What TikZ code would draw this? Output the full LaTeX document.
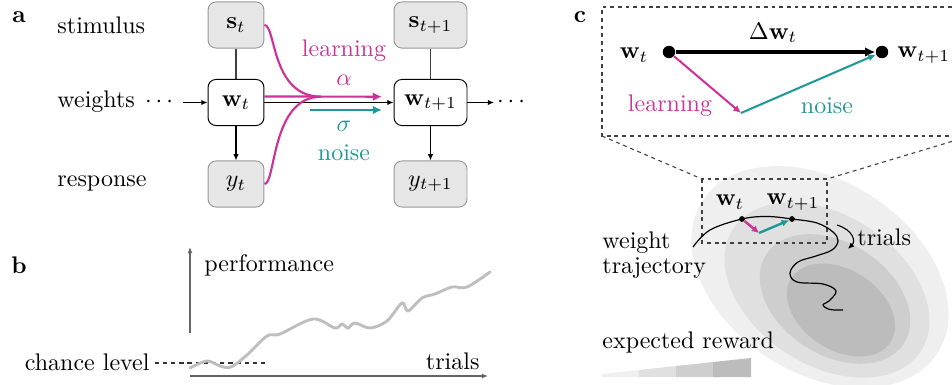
\documentclass[tikz,border=0pt]{standalone}
\usetikzlibrary{arrows.meta}
\definecolor{mag}{RGB}{204,51,153}
\definecolor{tealc}{RGB}{30,152,150}
\definecolor{boxgray}{RGB}{230,230,230}
\definecolor{ellA}{RGB}{239,239,239}
\definecolor{ellB}{RGB}{224,224,224}
\definecolor{ellC}{RGB}{206,206,206}
\definecolor{ellD}{RGB}{188,188,188}
\definecolor{axisgray}{RGB}{100,100,100}
\definecolor{curvegray}{RGB}{190,190,190}
\begin{document}
\begin{tikzpicture}[x=0.4167pt,y=-0.4167pt,
  lab/.style={anchor=west,inner sep=0pt},
  rlab/.style={anchor=east,inner sep=0pt},
  clab/.style={inner sep=0pt},
  gbox/.style={draw=gray!80,fill=boxgray,rounded corners=3.3pt,minimum height=19.2pt,inner sep=0pt},
  wbox/.style={draw=black,fill=white,rounded corners=3.3pt,minimum height=19.2pt,inner sep=0pt},
  thin arrow/.style={-{Latex[length=2.6pt,width=2.2pt]},line width=0.45pt},
  plain link/.style={line width=0.45pt,draw=black!75},
  magarrow/.style={draw=mag,line width=0.9pt,-{Latex[length=3.8pt,width=3.6pt]}},
  tealarrow/.style={draw=tealc,line width=0.9pt,-{Latex[length=3.8pt,width=3.6pt]}},
  magline/.style={draw=mag,line width=0.9pt},
  axisline/.style={draw=axisgray,line width=0.7pt,-{Latex[length=2.6pt,width=2.2pt]}},
  zoomdash/.style={draw=black!75,line width=0.45pt,dash pattern=on 1.6pt off 1.6pt},
  wdot/.style={circle,fill=black,inner sep=0pt,minimum size=5.2pt},
  sdot/.style={circle,fill=black,inner sep=0pt,minimum size=2.4pt},
  smallarrow/.style={line width=1pt,-{Latex[length=3pt,width=3pt]}},
  bigarrow/.style={line width=1.3pt,-{Latex[length=4.2pt,width=4pt]}},
  midarrow/.style={line width=0.85pt,-{Latex[length=3.2pt,width=3pt]}}]
\useasboundingbox (0,0) rectangle (952,385);

% ---------------- panel a ----------------
\node[font=\bfseries,clab] (la) at (19,17) {a};
\node[lab] (stim) at (57,25) {stimulus};
\node[lab] (wts) at (57,102) {weights};
\node[lab] (resp) at (57,183) {response};
\node[anchor=base,inner sep=0pt] (dotsL) at (159,108) {${\cdot}\,{\cdot}\,{\cdot}$};
\node[anchor=base,inner sep=0pt] (dotsR) at (511,108) {${\cdot}\,{\cdot}\,{\cdot}$};
\coordinate (win) at (183,102.5);
\coordinate (wout) at (494,102.5);

\node[gbox,minimum width=23.3pt] (s0) at (236,25) {$\mathbf{s}_t$};
\node[wbox,minimum width=23.3pt] (w0) at (236,102.5) {$\mathbf{w}_t$};
\node[gbox,minimum width=23.3pt] (y0) at (236,184) {$y_t$};
\node[gbox,minimum width=30.4pt] (s1) at (430.5,25) {$\mathbf{s}_{t+1}$};
\node[wbox,minimum width=30.4pt] (w1) at (430.5,102.5) {$\mathbf{w}_{t+1}$};
\node[gbox,minimum width=30.4pt] (y1) at (430.5,184) {$y_{t+1}$};

\draw[plain link] (s0) -- (w0);
\draw[thin arrow] (w0) -- (y0);
\draw[plain link] (s1) -- (w1);
\draw[thin arrow] (w1) -- (y1);
\draw[thin arrow] (win) -- (w0);
\draw[thin arrow] (w0) -- (w1);
\draw[thin arrow] (w1) -- (wout);

\coordinate (merge) at (321,96.7);
\coordinate (magtip) at (382,96.7);
\coordinate (tealstart) at (310,110);
\coordinate (tealtip) at (382,110);
\draw[magline] (s0.east) .. controls (276,25) and (271,96.7) .. (merge);
\draw[magline] (y0.east) .. controls (276,184) and (271,96.7) .. (merge);
\draw[magarrow] ([yshift=2.5pt]w0.east) -- (magtip);
\draw[tealarrow] (tealstart) -- (tealtip);
\node[clab,text=mag] (learnA) at (344,51) {learning};
\node[clab,text=mag] (alpha) at (344,80) {$\alpha$};
\node[clab,text=tealc] (sigma) at (344,126) {$\sigma$};
\node[clab,text=tealc] (noiseA) at (344,153) {noise};

% ---------------- panel b ----------------
\node[font=\bfseries,clab] (lb) at (19,265) {b};
\coordinate (ybot) at (190,333);
\coordinate (ytop) at (190,247);
\coordinate (xleft) at (190,376);
\coordinate (xright) at (488,376);
\draw[axisline] (ybot) -- (ytop);
\draw[axisline] (xleft) -- (xright);
\node[lab] (perf) at (204,265) {performance};
\node[rlab] (trialsB) at (480,361) {trials};
\node[rlab] (chance) at (150,362) {chance level};
\coordinate (chanceEnd) at (268,363);
\draw[black!80,line width=0.45pt,dash pattern=on 1.8pt off 1.6pt] ([xshift=2pt]chance.east |- chanceEnd) -- (chanceEnd);
\draw[curvegray,line width=1.2pt,line cap=round] plot[smooth,tension=0.55] coordinates {
(190,368) (207,361) (220,366) (231,367) (247,355) (267,336) (280,334)
(313,319) (335,328) (342,324) (348,328) (355,323) (370,328) (387,321)
(402,303) (408,311) (422,298) (435,294) (452,287) (467,287) (490,272)};

% ---------------- panel c ----------------
\node[font=\bfseries,clab] (lc) at (580,17) {c};
% landscape
\fill[ellA, rotate around={-33:(820,277)}] (820,277) ellipse [x radius=140, y radius=96];
\fill[ellB, rotate around={-33:(827,290)}] (827,290) ellipse [x radius=112, y radius=75];
\fill[ellC, rotate around={-33:(835,299)}] (835,299) ellipse [x radius=82, y radius=56];
\fill[ellD, rotate around={-33:(841,310)}] (841,310) ellipse [x radius=59, y radius=40];

% zoom box
\draw[zoomdash] (952,7) -- (602,7) -- (602,136) -- (952,136);
\coordinate (bigBL) at (602,136);
\coordinate (bigBR) at (952,141.4);
\coordinate (smTL) at (702,179);
\coordinate (smTR) at (827,179);
\draw[zoomdash] (702,179) rectangle (827,243);
\draw[zoomdash] (bigBL) -- (smTL);
\draw[zoomdash] (bigBR) -- (smTR);

% zoomed view
\node[wdot] (bw0) at (669,52) {};
\node[wdot] (bw1) at (882,52) {};
\node[clab] (bw0l) at (634,55) {$\mathbf{w}_t$};
\node[lab] (bw1l) at (897,55) {$\mathbf{w}_{t+1}$};
\coordinate (bmid) at (741,113);
\draw[bigarrow] (bw0) -- (bw1);
\node[clab] (dw) at (773,33) {$\Delta\mathbf{w}_t$};
\draw[midarrow,mag] (bw0) -- (bmid);
\draw[midarrow,tealc] (bmid) -- (bw1);
\node[clab,text=mag] (learnC) at (670,106) {learning};
\node[clab,text=tealc] (noiseC) at (827,106) {noise};

% trajectory
\draw[black,line width=0.5pt] plot[smooth,tension=0.6] coordinates {
(693,247) (710,230) (742,219) (767,216.5) (792,219) (817,223) (833,232)
(838,241) (832,250) (816,256) (798,262) (790,273) (797,282) (823,284)
(836,291) (829,301) (823,305) (830,309.5) (843,310)};
\node[sdot] (tw0) at (742,219) {};
\node[sdot] (tw1) at (792,219) {};
\node[clab] (tw0l) at (730,202) {$\mathbf{w}_t$};
\node[clab] (tw1l) at (793,202) {$\mathbf{w}_{t+1}$};
\coordinate (tmid) at (759,233);
\draw[smallarrow,mag] (tw0) -- (tmid);
\draw[smallarrow,tealc] (tmid) -- (tw1);
\coordinate (trA) at (837,225);
\coordinate (trB) at (848,249);
\draw[thin arrow] (trA) .. controls (853,230) and (856,241) .. (trB);
\node[lab] (trialsC) at (857,237) {trials};
\node[lab] (weight) at (602,243) {weight};
\node[lab] (traj) at (602,268) {trajectory};
\node[lab] (expr) at (602,343) {expected reward};

% reward scale
\fill[ellA] (602,377) -- (639,377) -- (639,370) -- (602,374) -- cycle;
\fill[ellB] (639,377) -- (676,377) -- (676,366) -- (639,370) -- cycle;
\fill[ellC] (676,377) -- (713,377) -- (713,362) -- (676,366) -- cycle;
\fill[ellD] (713,377) -- (751,377) -- (751,358) -- (713,362) -- cycle;
\end{tikzpicture}
\end{document}
